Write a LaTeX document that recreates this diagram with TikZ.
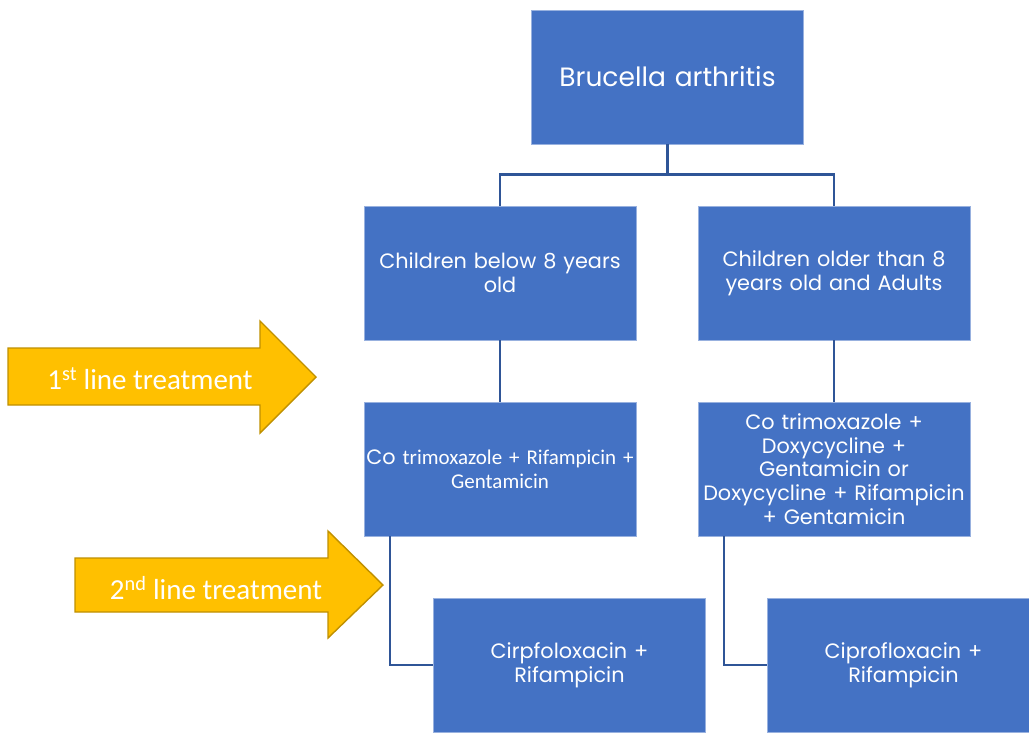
\documentclass[tikz,border=0pt]{standalone}
\usepackage{fontspec}
\setmainfont{Poppins}
\newfontfamily\calib{Carlito}
\usepackage{tikz}
\usetikzlibrary{positioning,calc}
\definecolor{boxblue}{HTML}{4472C4}
\definecolor{linkblue}{HTML}{2F5597}
\definecolor{arrgold}{HTML}{FFC000}
\definecolor{arredge}{HTML}{BF9000}

\begin{document}
\begin{tikzpicture}[
    x=1pt, y=-1pt,
    box/.style={
        rectangle, draw=boxblue!55!white, fill=boxblue, line width=0.8pt,
        minimum width=272pt, minimum height=134pt,
        text=white, font=\fontsize{20.8}{23.7}\selectfont, align=center,
        text width=271pt, inner sep=0pt
    },
    link/.style={draw=linkblue, line width=2.2pt},
    treatarrow/.style={fill=arrgold, draw=arredge, line width=1.4pt},
    treattext/.style={text=white, font=\calib\fontsize{29}{32}\selectfont}
]
\useasboundingbox (0,0) rectangle (1029,732);

% Boxes
\node[box, font=\fontsize{26.5}{30}\selectfont] (top) at (667.5,77) {Brucella arthritis};
\node[box] (below8) at (500,273) {Children below 8 years\\old};
\node[box] (above8) at (834,273) {Children older than 8\\years old and Adults};
\node[box] (first1) at (500,469) {Co {\calib\fontsize{21}{23.7}\selectfont trimoxazole + Rifampicin +}\\{\calib\fontsize{21}{23.7}\selectfont Gentamicin}};
\node[box] (first2) at (834,469) {Co trimoxazole +\\Doxycycline +\\Gentamicin or\\Doxycycline + Rifampicin\\+ Gentamicin};
\node[box] (second1) at (569.5,665) {Cirpfoloxacin +\\Rifampicin};
\node[box] (second2) at (903.5,665) {Ciprofloxacin +\\Rifampicin};

% Tree links
\draw[link] (top.south) -- ++(0,30) -| (below8.north);
\draw[link] (top.south) -- ++(0,30) -| (above8.north);
\draw[link] (below8) -- (first1);
\draw[link] (above8) -- (first2);
\draw[link] ($(first1.south west)+(26,0)$) |- (second1.west);
\draw[link] ($(first2.south west)+(26,0)$) |- (second2.west);

% Treatment arrows
\draw[treatarrow] (8,348) -- (260,348) -- (260,321) -- (316,377)
    -- (260,433) -- (260,405) -- (8,405) -- cycle;
\node[treattext] (line1) at (150,379) {1\textsuperscript{st} line treatment};
\draw[treatarrow] (75,558) -- (328,558) -- (328,531) -- (383,585)
    -- (328,638) -- (328,612) -- (75,612) -- cycle;
\node[treattext] (line2) at (216,588) {2\textsuperscript{nd} line treatment};

\end{tikzpicture}
\end{document}
